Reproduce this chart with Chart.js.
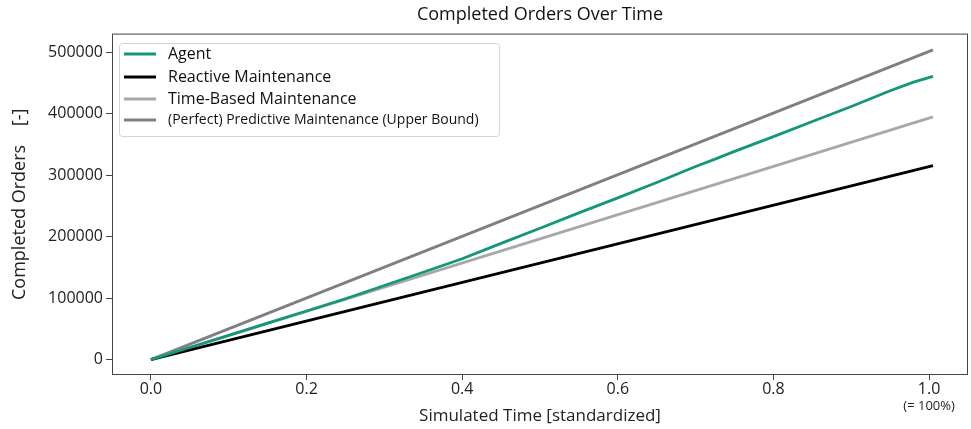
<!DOCTYPE html>
<html>
<head>
<meta charset="utf-8">
<script src="https://cdn.jsdelivr.net/npm/chart.js@4.4.1/dist/chart.umd.min.js"></script>
<style>
  html, body { margin: 0; padding: 0; background: #fff; }
  #wrap { width: 971px; height: 429px; }
</style>
</head>
<body>
<div id="wrap"><canvas id="ordersChart" width="971" height="429"></canvas></div>
<script>
// series
const agentTime = [0, 0.05, 0.1, 0.15, 0.2, 0.25, 0.3, 0.35, 0.4, 0.45, 0.5, 0.55, 0.6, 0.65, 0.7, 0.725, 0.75, 0.8, 0.85, 0.9, 0.95, 0.98, 1.005];
const agentOrders = [0, 19700, 39400, 59200, 79000, 99000, 120500, 142000, 164000, 189000, 213500, 238500, 263000, 288000, 314000, 326000, 338500, 362500, 387000, 411500, 437000, 451000, 460500];

const baselineTime = [0, 1.005];
const reactiveOrders = [0, 315500];
const timeBasedOrders = [0, 394500];
const predictiveOrders = [0, 503500];

const xTicks = [0, 0.2, 0.4, 0.6, 0.8, 1.0];
const yTicks = [0, 100000, 200000, 300000, 400000, 500000];

const seriesLabels = ['Agent', 'Reactive Maintenance', 'Time-Based Maintenance', '(Perfect) Predictive Maintenance (Upper Bound)'];
const seriesColors = ['#12977a', '#000000', '#a8a8a8', '#7f7f7f'];

const FONT = "'Open Sans', 'Noto Sans', sans-serif";

const pts = (xs, ys) => xs.map((x, i) => ({ x: x, y: ys[i] }));

function lineSet(i, data) {
    return {
        label: seriesLabels[i],
        data: data,
        borderColor: seriesColors[i],
        backgroundColor: seriesColors[i],
        borderWidth: 2.8,
        pointRadius: 0,
        tension: 0,
        fill: false
    };
}

// frame, in-plot legend and the "(= 100%)" note
const extras = {
    id: 'extras',
    afterDatasetsDraw(chart) {
        const ctx = chart.ctx;
        const a = chart.chartArea;
        ctx.save();
        ctx.strokeStyle = '#444';
        ctx.lineWidth = 1;
        ctx.strokeRect(a.left + 0.5, a.top + 0.5, a.right - a.left - 1, a.bottom - a.top - 1);

        // legend box
        const bx = 119, by = 43, bw = 380, bh = 93;
        ctx.fillStyle = 'rgba(255,255,255,0.9)';
        ctx.strokeStyle = '#d4d4d4';
        ctx.beginPath();
        ctx.roundRect(bx + 0.5, by + 0.5, bw, bh, 3);
        ctx.fill();
        ctx.stroke();

        const rows = [54, 77, 99, 120];
        const sizes = [16, 16, 16, 14];
        ctx.textBaseline = 'middle';
        ctx.textAlign = 'left';
        chart.data.datasets.forEach((ds, i) => {
            ctx.strokeStyle = ds.borderColor;
            ctx.lineWidth = 3;
            ctx.beginPath();
            ctx.moveTo(124, rows[i]);
            ctx.lineTo(156, rows[i]);
            ctx.stroke();
            ctx.fillStyle = '#111';
            ctx.font = sizes[i] + 'px ' + FONT;
            ctx.fillText(ds.label, 168, rows[i]);
        });

        // note under the last x tick
        const xs = chart.scales.x;
        ctx.textAlign = 'center';
        ctx.font = '13px ' + FONT;
        ctx.fillStyle = '#222';
        ctx.fillText('(= 100%)', xs.getPixelForValue(1.0), 406);
        ctx.restore();
    }
};

new Chart(document.getElementById('ordersChart'), {
    type: 'line',
    data: {
        datasets: [
            lineSet(0, pts(agentTime, agentOrders)),
            lineSet(1, pts(baselineTime, reactiveOrders)),
            lineSet(2, pts(baselineTime, timeBasedOrders)),
            lineSet(3, pts(baselineTime, predictiveOrders))
        ]
    },
    options: {
        responsive: false,
        animation: false,
        layout: { padding: { left: 0, right: 3, top: 0, bottom: 0 } },
        plugins: {
            legend: { display: false },
            tooltip: { enabled: false },
            title: {
                display: true,
                fullSize: false,
                text: 'Completed Orders Over Time',
                color: '#111',
                font: { family: FONT, size: 18, weight: 'normal' },
                padding: { top: 4, bottom: 8 }
            }
        },
        scales: {
            x: {
                type: 'linear',
                min: -0.05,
                max: 1.05,
                afterBuildTicks: s => { s.ticks = xTicks.map(v => ({ value: v })); },
                afterFit: s => { s.height = 54; },
                grid: { display: true, drawOnChartArea: false, drawTicks: true, tickLength: 5, color: '#444' },
                border: { display: false },
                ticks: {
                    padding: 0,
                    color: '#222',
                    font: { family: FONT, size: 16 },
                    maxRotation: 0,
                    callback: v => v.toFixed(1)
                },
                title: {
                    display: true,
                    text: 'Simulated Time [standardized]',
                    color: '#222',
                    font: { family: FONT, size: 17 },
                    padding: { top: 0, bottom: 3 }
                }
            },
            y: {
                min: -25000,
                max: 530000,
                afterBuildTicks: s => { s.ticks = yTicks.map(v => ({ value: v })); },
                afterFit: s => { s.width = 112; },
                grid: { display: true, drawOnChartArea: false, drawTicks: true, tickLength: 6, color: '#444' },
                border: { display: false },
                ticks: {
                    padding: 3,
                    color: '#222',
                    font: { family: FONT, size: 16 },
                    callback: v => String(v)
                },
                title: {
                    display: true,
                    text: 'Completed Orders    [-]',
                    color: '#222',
                    font: { family: FONT, size: 18 },
                    padding: { top: 9, bottom: 0 }
                }
            }
        }
    },
    plugins: [extras]
});
</script>
</body>
</html>
